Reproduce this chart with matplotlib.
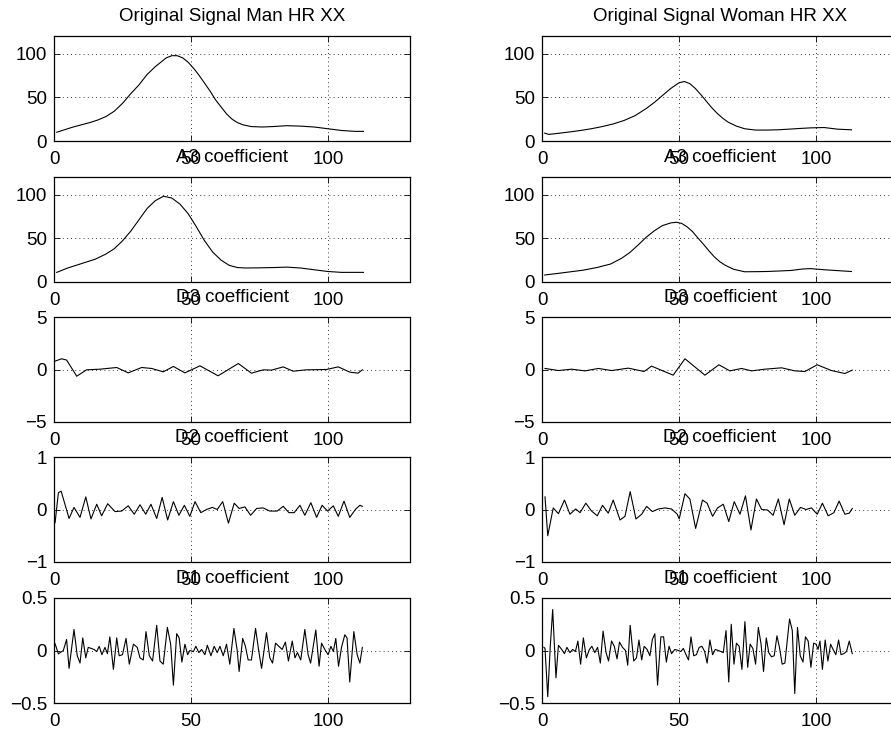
import matplotlib
matplotlib.use("Agg")
import matplotlib.pyplot as plt

plt.rcParams['font.family'] = ['Liberation Sans', 'DejaVu Sans']

# ---------------- data ----------------
man_orig_x = [1, 4, 7, 10, 13, 16, 19, 22, 25, 28, 31, 34, 37, 39, 41, 43, 45, 47, 49, 51, 53, 55, 57, 59, 61, 63, 65, 67, 69, 72, 76, 80, 85, 90, 95, 100, 105, 110, 113]
man_orig_y = [10, 13, 16, 18.5, 21, 24, 28, 34, 43, 54, 64, 76, 85, 90, 95, 97.5, 97.5, 95, 90, 83, 75, 66, 57, 47, 39, 31, 25, 21, 18.5, 16.5, 16, 16.5, 17.5, 17, 16, 14, 12, 11, 11]

man_a3_x = [1, 5, 10, 15, 19, 22, 25, 28, 31, 34, 37, 40, 43, 46, 49, 52, 55, 58, 61, 64, 67, 70, 75, 80, 85, 90, 95, 100, 105, 110, 113]
man_a3_y = [11, 16, 21, 26, 32, 38, 47, 58, 71, 84, 93, 98, 96, 89, 78, 63, 47, 34, 25, 19, 16.5, 16, 16.2, 16.5, 17, 16, 14, 12, 11, 11, 11]

woman_orig_x = [1, 2.5, 6, 10, 14, 18, 22, 26, 30, 34, 38, 41, 44, 47, 50, 52, 54, 56, 58, 60, 62, 64, 66, 68, 71, 74, 78, 82, 86, 90, 94, 98, 103, 108, 113]
woman_orig_y = [9, 7.5, 8.8, 10.3, 12, 14, 16.5, 19.5, 23.5, 29, 37, 44, 52, 60, 66.5, 68, 65.5, 60, 53, 45.5, 38, 31.5, 26, 21.5, 17, 14, 12.5, 12.5, 12.8, 13.5, 14.3, 15, 15.4, 13.5, 12.8]

woman_a3_x = [1, 5, 10, 15, 20, 25, 29, 32, 35, 38, 41, 44, 47, 49, 51, 53, 55, 57, 59, 61, 63, 65, 67, 70, 74, 78, 82, 86, 91, 95, 98, 103, 108, 113]
woman_a3_y = [8, 9.5, 11.5, 13.5, 16.5, 20.5, 27, 33.5, 42, 51, 58.5, 64.5, 67.5, 68.3, 67, 63, 57.5, 50, 43, 35.5, 28.5, 23, 19, 14.5, 11.7, 11.8, 12, 12.5, 13.2, 14.8, 15.3, 14, 13, 12]

man_d3_x = [0.4, 2.8, 4.6, 8.3, 11.9, 16.8, 22.9, 27.1, 32, 35.6, 39.9, 43.6, 47.8, 53.3, 59.9, 67.3, 72.1, 76.4, 79.4, 83.7, 87.3, 92.2, 99.5, 103.8, 108, 111, 112.6]
man_d3_y = [0.8, 1.02, 0.9, -0.64, -0.03, 0.03, 0.19, -0.32, 0.19, 0.1, -0.22, 0.29, -0.32, 0.35, -0.6, 0.57, -0.35, -0.03, -0.06, 0.25, -0.16, -0.03, 0.0, 0.25, -0.25, -0.35, -0.03]

woman_d3_x = [1.1, 6, 10.8, 15.7, 20.6, 25.4, 31.5, 37.3, 40, 47.9, 52.2, 59.5, 64.6, 68.6, 72.9, 76.5, 81.4, 87.5, 92.3, 96, 100.5, 105.7, 110.6, 113.3]
woman_d3_y = [0.1, -0.1, 0.03, -0.13, 0.1, -0.1, 0.13, -0.19, 0.32, -0.54, 1.02, -0.54, 0.45, -0.13, 0.1, -0.13, 0.03, 0.16, -0.13, -0.19, 0.45, -0.1, -0.38, -0.06]

man_d2_x = [0.4, 1.6, 2.6, 5.5, 7.3, 9.5, 11.6, 13.5, 15.6, 17.4, 19.6, 22.3, 24.7, 27.1, 29.3, 31.4, 33.5, 35.4, 37.5, 39.5, 41.5, 43.6, 45.6, 47.6, 49.6, 51.5, 53.6, 55.7, 57.8, 59.6, 61.6, 63.7, 65.8, 67.6, 69.7, 71.8, 74, 76.4, 78.8, 81.5, 83.7, 85.8, 87.7, 89.8, 91.6, 93.8, 95.9, 97.9, 99.9, 102, 103.8, 105.9, 108, 110.2, 111.7, 112.6]
man_d2_y = [-0.25, 0.32, 0.35, -0.17, 0.04, -0.15, 0.24, -0.18, 0.1, -0.12, 0.11, -0.04, -0.03, 0.07, -0.09, 0.09, -0.09, 0.1, -0.17, 0.23, -0.2, 0.15, -0.11, 0.08, -0.13, 0.15, -0.06, 0.0, 0.04, 0.0, 0.15, -0.26, 0.12, 0.02, 0.05, -0.11, 0.02, 0.03, -0.03, -0.03, 0.06, -0.06, -0.06, 0.08, -0.11, 0.13, -0.15, 0.08, -0.03, 0.07, -0.13, 0.16, -0.15, 0.01, 0.08, 0.06]

woman_d2_x = [1.1, 2.1, 4.1, 6, 8.2, 10.2, 12.3, 13.9, 16, 18.1, 20.2, 22.1, 24.2, 26, 28.5, 30.3, 32.2, 34.3, 36.4, 38.2, 40.3, 42.5, 44.9, 47.3, 49.4, 50.1, 52.2, 54, 56.1, 58.6, 60.3, 62.3, 64.1, 66.2, 68.2, 70.2, 72.3, 74.3, 76.3, 78.3, 80.2, 82.4, 84.4, 86.3, 88.4, 90.3, 92.3, 94.4, 96.4, 98.4, 100.5, 102.4, 104.5, 106.6, 108.5, 110.6, 112.2, 113.3]
woman_d2_y = [0.24, -0.5, 0.03, -0.08, 0.18, -0.09, 0.01, -0.06, 0.12, -0.03, -0.12, 0.08, -0.07, 0.18, -0.2, -0.13, 0.34, -0.18, -0.09, 0.06, -0.04, 0.01, 0.03, 0.01, -0.09, -0.18, 0.3, 0.2, -0.36, 0.18, 0.12, -0.13, 0.03, 0.1, -0.23, 0.15, -0.09, 0.26, -0.39, 0.2, 0.0, -0.01, -0.11, 0.2, -0.29, 0.2, -0.11, 0.04, 0.0, 0.03, -0.09, 0.12, -0.12, -0.06, 0.16, -0.09, -0.07, 0.02]

man_d1_x = [0.4, 1.6, 3.4, 4.6, 5.5, 7.3, 8.5, 9.5, 10.5, 11.6, 12.5, 14.6, 15.6, 16.5, 17.5, 18.6, 19.5, 20.4, 21.7, 22.9, 23.8, 25, 26.3, 27.5, 29, 30.4, 31.4, 32.6, 33.6, 34.8, 36, 37.5, 38.7, 39.9, 41.4, 42.6, 43.6, 44.8, 45.7, 46.7, 47.8, 48.8, 49.6, 50.9, 51.8, 52.9, 53.9, 55.1, 56, 57.3, 58.5, 59.6, 60.6, 61.8, 63, 64.2, 65.7, 66.9, 67.6, 68.9, 69.9, 70.9, 72.1, 73.6, 74.8, 75.8, 77.6, 78.8, 79.8, 80.9, 82.1, 83.3, 84.5, 85.6, 87, 88, 88.9, 90.1, 91.6, 92.8, 93.7, 95.6, 96.8, 97.7, 98.9, 100.1, 101.1, 102, 102.9, 103.9, 105, 106.2, 107, 108, 109.5, 110.7, 111.7, 112.6]
man_d1_y = [0.064, -0.032, 0.0, 0.105, -0.17, 0.2, -0.05, -0.12, 0.12, -0.07, 0.03, 0.01, -0.01, 0.04, -0.04, 0.03, -0.03, 0.13, -0.18, 0.12, -0.05, -0.04, 0.115, -0.13, 0.06, 0.03, -0.07, -0.09, 0.18, -0.05, -0.1, 0.24, -0.1, -0.13, 0.22, 0.06, -0.33, 0.16, 0.12, -0.11, 0.06, -0.04, 0.0, -0.01, 0.04, -0.02, 0.01, -0.04, 0.05, -0.05, 0.04, -0.02, 0.04, -0.05, 0.06, -0.13, 0.21, 0.0, -0.2, 0.115, 0.04, -0.09, -0.09, 0.21, -0.01, -0.17, 0.17, -0.07, -0.12, 0.07, 0.04, 0.01, 0.08, -0.1, 0.09, -0.07, -0.02, -0.09, 0.2, -0.04, -0.12, 0.195, -0.15, 0.07, 0.01, -0.04, 0.04, -0.01, 0.115, -0.15, 0.03, 0.15, 0.12, -0.3, 0.18, -0.04, -0.12, 0.03]

woman_d1_x = [0.7, 1.1, 2.1, 3, 3.9, 5.1, 6, 7.2, 8.2, 9.1, 10.2, 11.2, 12.2, 13.1, 14.1, 15.1, 16.2, 17.3, 18.2, 19.3, 20.3, 21.3, 22.3, 23.4, 24.3, 25.4, 26.4, 27.4, 28.3, 29.4, 30.5, 31.3, 32.2, 33.5, 34.5, 35.4, 36.4, 37.3, 38.4, 39.4, 40.3, 41.2, 42.2, 43.4, 44.4, 45.4, 46.4, 47.3, 48.5, 49.8, 50.7, 51.6, 52.6, 53.5, 54.4, 55.4, 56.4, 57.4, 58.4, 59.4, 60.3, 61.3, 62.3, 63.3, 64.4, 65.3, 66.2, 67.2, 68.2, 69.1, 70.1, 71, 72, 73, 74.1, 75.1, 76, 77, 78, 79, 80, 80.9, 81.9, 82.8, 83.8, 84.8, 85.8, 86.7, 87.7, 88.7, 89.7, 90.4, 91.4, 92.3, 93.3, 94.3, 95.3, 96.2, 97.2, 98.2, 99.2, 100.1, 100.8, 101.5, 102.4, 103.4, 104.4, 105.4, 106.3, 107.3, 108.3, 109.2, 110.2, 111.2, 112.2, 113.3]
woman_d1_y = [0.03, 0.02, -0.44, 0.03, 0.39, -0.26, 0.05, 0.01, -0.03, 0.03, -0.02, 0.01, -0.01, 0.09, -0.13, 0.12, -0.07, 0.01, 0.04, -0.02, 0.03, -0.12, 0.185, -0.02, -0.1, 0.09, 0.04, -0.08, 0.08, 0.03, 0.0, -0.14, 0.24, -0.1, -0.07, 0.1, -0.09, 0.04, 0.01, -0.05, 0.105, 0.16, -0.33, 0.13, 0.13, -0.11, 0.04, -0.03, 0.01, 0.0, -0.01, 0.02, -0.04, -0.09, 0.13, -0.05, -0.04, 0.03, 0.04, -0.01, -0.12, 0.1, -0.04, 0.01, 0.0, -0.01, -0.02, 0.19, -0.3, 0.25, -0.13, 0.07, 0.04, -0.18, 0.275, -0.16, 0.06, 0.02, -0.13, 0.22, 0.06, -0.2, 0.12, -0.02, -0.06, -0.05, 0.14, 0.03, -0.13, -0.12, 0.13, 0.3, 0.19, -0.41, 0.22, -0.05, -0.11, 0.13, 0.09, -0.16, 0.07, 0.06, 0.01, 0.09, -0.18, 0.1, -0.1, 0.06, 0.01, -0.04, 0.1, -0.04, -0.03, -0.01, 0.09, -0.03]

titles_left = ["Original Signal Man HR XX", "A3 coefficient", "D3 coefficient", "D2 coefficient", "D1 coefficient"]
titles_right = ["Original Signal Woman HR XX", "A3 coefficient", "D3 coefficient", "D2 coefficient", "D1 coefficient"]
ylims = [(0, 120), (0, 120), (-5, 5), (-1, 1), (-0.5, 0.5)]
yticks = [[0, 50, 100], [0, 50, 100], [-5, 0, 5], [-1, 0, 1], [-0.5, 0, 0.5]]
ytick_labels = [["0", "50", "100"], ["0", "50", "100"], ["\u22125", "0", "5"], ["\u22121", "0", "1"], ["\u22120.5", "0", "0.5"]]
xticks = [0, 50, 100]
xlim = (0, 130)

left_series = [(man_orig_x, man_orig_y), (man_a3_x, man_a3_y), (man_d3_x, man_d3_y), (man_d2_x, man_d2_y), (man_d1_x, man_d1_y)]
right_series = [(woman_orig_x, woman_orig_y), (woman_a3_x, woman_a3_y), (woman_d3_x, woman_d3_y), (woman_d2_x, woman_d2_y), (woman_d1_x, woman_d1_y)]

# ---------------- layout ----------------
W, H = 891, 733
fig = plt.figure(figsize=(W / 100, H / 100), dpi=100)
fig.patch.set_facecolor('white')

col_left_px = [54, 542]
ax_w_px = 356
row_top_px = [36, 177, 317, 457, 598]
ax_h_px = 105
FS = 13.5

for col, (series, titles) in enumerate([(left_series, titles_left), (right_series, titles_right)]):
    for r in range(5):
        l = col_left_px[col] / W
        b = (H - row_top_px[r] - ax_h_px) / H
        ax = fig.add_axes([l, b, ax_w_px / W, ax_h_px / H])
        x, y = series[r]
        ax.plot(x, y, color='black', lw=0.8)
        ax.set_xlim(*xlim)
        ax.set_ylim(*ylims[r])
        ax.set_xticks(xticks)
        ax.set_xticklabels([str(t) for t in xticks])
        ax.set_yticks(yticks[r])
        ax.set_yticklabels(ytick_labels[r])
        ax.grid(True, color='black', linestyle=(0, (1, 4)), linewidth=0.6)
        ax.tick_params(direction='in', length=4, width=0.6, top=True, right=True,
                       labelsize=FS)
        ax.tick_params(axis='x', pad=7)
        ax.tick_params(axis='y', pad=5)
        for s in ax.spines.values():
            s.set_linewidth(0.9)
        ax.set_title(titles[r], fontsize=FS, pad=11)

fig.savefig("out.png", dpi=100)
